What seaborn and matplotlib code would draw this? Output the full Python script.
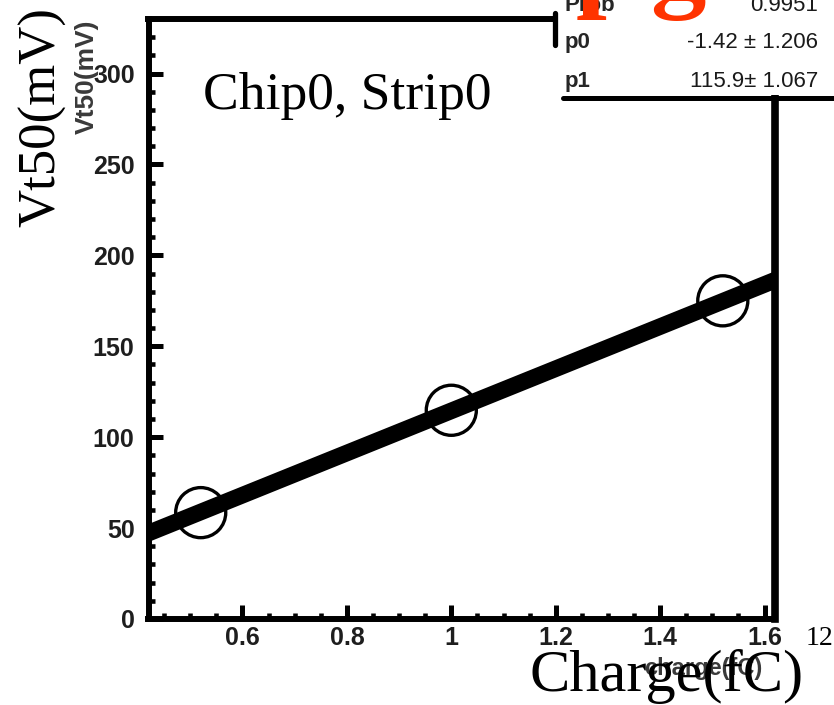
import numpy as np
import pandas as pd
import matplotlib
matplotlib.use("Agg")
import matplotlib.pyplot as plt
from matplotlib.patches import Rectangle
from matplotlib.lines import Line2D
import seaborn as sns

# Measured points: injected charge vs. 50% threshold
charge_fc = [0.52, 1.0, 1.52]
vt50_mv = [58.5, 114.8, 175.0]

# Linear fit result (Vt50 = p0 + p1 * charge)
p0, p0_err = -1.42, 1.206
p1, p1_err = 115.9, 1.067
fit_prob = "0.9951"

x_ticks = [0.6, 0.8, 1.0, 1.2, 1.4, 1.6]
x_tick_labels = ["0.6", "0.8", "1", "1.2", "1.4", "1.6"]
y_ticks = [0, 50, 100, 150, 200, 250, 300]
y_tick_labels = ["0", "50", "100", "150", "200", "250", "300"]
x_range = (0.42, 1.62)
y_range = (0, 330)

W, H = 834, 705
sns.set_style("white")
plt.rcParams["font.family"] = ["Liberation Sans", "DejaVu Sans"]

fig = plt.figure(figsize=(W / 100, H / 100), dpi=100)
fig.patch.set_facecolor("white")


def fx(px):
    return px / W


def fy(py):
    return 1 - py / H


left, right, top, bottom = 148.5, 775.0, 19.0, 619.0
ax = fig.add_axes([fx(left), fy(bottom), fx(right) - fx(left), (bottom - top) / H])

points = pd.DataFrame({"charge": charge_fc, "vt50": vt50_mv})
sns.scatterplot(data=points, x="charge", y="vt50", ax=ax, marker="o", s=1300,
                facecolor="none", edgecolor="black", linewidth=2.4, zorder=3,
                legend=False)

fit_x = np.linspace(x_range[0], x_range[1], 50)
fit = pd.DataFrame({"charge": fit_x, "vt50": p0 + p1 * fit_x})
sns.lineplot(data=fit, x="charge", y="vt50", ax=ax, color="black", linewidth=12,
             zorder=4, solid_capstyle="butt")

ax.set_xlim(*x_range)
ax.set_ylim(*y_range)
ax.set_xticks(x_ticks, labels=x_tick_labels)
ax.set_yticks(y_ticks, labels=y_tick_labels)
ax.set_xticks(np.arange(0.45, 1.62, 0.05), minor=True)
ax.set_yticks(np.arange(0, 331, 10), minor=True)
ax.set_xlabel("")
ax.set_ylabel("")

for side in ["left", "bottom", "top", "right"]:
    ax.spines[side].set_visible(True)
    ax.spines[side].set_color("black")
    ax.spines[side].set_linewidth(4.3)
ax.spines["right"].set_linewidth(5.5)

ax.tick_params(axis="both", which="both", direction="in", bottom=True, left=True,
               top=False, right=False, colors="black")
ax.tick_params(axis="both", which="major", length=10, width=3.6,
               labelsize=18, labelcolor="#1e1e1e")
ax.tick_params(axis="both", which="minor", length=4.5, width=3.3)
ax.tick_params(axis="y", which="major", pad=10)
ax.tick_params(axis="x", which="major", pad=5)
for lab in ax.get_xticklabels() + ax.get_yticklabels():
    lab.set_fontweight("bold")

# Small axis titles of the plot itself
fig.text(fx(87), fy(20), "Vt50(mV)", rotation=90, ha="center", va="top",
         fontsize=19, fontweight="bold", color="#3a3a3a")
fig.text(fx(762), fy(668), "charge(fC)", ha="right", va="center",
         fontsize=17, fontweight="bold", color="#3a3a3a")

# Fit statistics box
fig.patches.append(Rectangle((fx(557), fy(95)), fx(834) - fx(557), 95 / H,
                             transform=fig.transFigure, facecolor="white",
                             edgecolor="none", zorder=5))
fig.lines.append(Line2D([fx(563), fx(834)], [fy(97.5), fy(97.5)],
                        transform=fig.transFigure, color="black", linewidth=3.6,
                        zorder=6))
fig.lines.append(Line2D([fx(554.5), fx(554.5)], [fy(13), fy(45)],
                        transform=fig.transFigure, color="black", linewidth=3.8,
                        zorder=6))
stat_rows = [("Prob", fit_prob, 11),
             ("p0", f"{p0:.2f} \u00b1 {p0_err:.3f}", 48),
             ("p1", f"{p1:.1f}\u00b1 {p1_err:.3f}", 87)]
for name, value, base in stat_rows:
    fig.text(fx(565), fy(base), name, ha="left", va="baseline", fontsize=16,
             fontweight="bold", color="#262626", zorder=7)
    fig.text(fx(818), fy(base), value, ha="right", va="baseline", fontsize=16,
             color="#1a1a1a", zorder=7)

# Slide annotations in serif type
serif = ["Liberation Serif", "DejaVu Serif"]
for glyph, gx in [("p", 576), ("g", 650)]:
    fig.text(fx(gx), fy(-3), glyph, ha="left", va="baseline", fontsize=80,
             fontweight="bold", family=serif, color="#ff3300", zorder=8)
fig.text(fx(203), fy(109), "Chip0, Strip0", ha="left", va="baseline",
         fontsize=38.5, family=serif, color="black")
fig.text(fx(42), fy(227), "Vt50(mV)", rotation=90, ha="center", va="bottom",
         fontsize=38, family=serif, color="black")
fig.text(fx(530), fy(691), "Charge(fC)", ha="left", va="baseline",
         fontsize=43.5, family=serif, color="black")
fig.text(fx(806), fy(645), "12", ha="left", va="baseline",
         fontsize=20, family=serif, color="black")

fig.savefig("out.png", dpi=100, facecolor="white")
